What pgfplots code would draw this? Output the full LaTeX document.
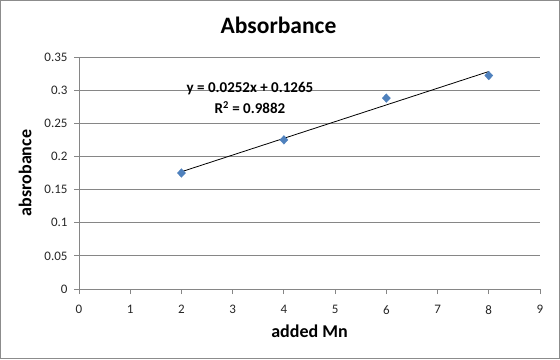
\documentclass[border=0pt]{standalone}
\usepackage{pgfplots}
\pgfplotsset{compat=1.18}
\usepackage{fontspec}
\setmainfont{Carlito}
\definecolor{seriesblue}{HTML}{4F81BD}
\definecolor{gridgray}{HTML}{868686}
\definecolor{framegray}{HTML}{8C8C8C}

\begin{document}
\begin{tikzpicture}[x=1bp,y=1bp]
% chart frame
\draw[framegray, line width=1.2bp] (0.6,0.6) rectangle (559.4,358.4);
\begin{axis}[
  at={(79bp,70bp)}, anchor=south west,
  scale only axis, width=461bp, height=232bp,
  xmin=0, xmax=9, ymin=0, ymax=0.35,
  xtick={0,1,2,3,4,5,6,7,8,9},
  ytick={0,0.05,0.1,0.15,0.2,0.25,0.3,0.35},
  yticklabels={0,0.05,0.1,0.15,0.2,0.25,0.3,0.35},
  axis x line*=bottom, axis y line*=left,
  axis line style={gridgray, line width=0.8bp},
  tick style={gridgray, line width=0.8bp},
  tick align=outside, major tick length=5bp,
  ymajorgrids, grid style={gridgray, line width=0.8bp},
  /pgf/number format/assume math mode=true,
  ticklabel style={font=\fontsize{13bp}{15bp}\selectfont, text=black!85},
  xticklabel style={yshift=-8bp},
  yticklabel style={xshift=-3bp},
  title={Absorbance},
  title style={font=\bfseries\fontsize{23.5bp}{27bp}\selectfont, at={(axis description cs:0.4328,1.11)}, anchor=center, yshift=0pt},
  xlabel={added Mn},
  xlabel style={font=\bfseries\fontsize{18bp}{21bp}\selectfont, at={(axis description cs:0.5,-0.18)}, anchor=center},
  ylabel={absrobance},
  ylabel style={font=\bfseries\fontsize{18bp}{21bp}\selectfont, at={(axis description cs:-0.117,0.5)}, anchor=center},
  clip=false,
]
% linear trendline y = 0.0252x + 0.1265 over the data range
\addplot[black, line width=0.8bp] coordinates {(2,0.1769) (8,0.3281)};
% measurements
\addplot[only marks, mark=diamond*, mark size=4.3bp, color=seriesblue, mark options={fill=seriesblue, draw=seriesblue, xscale=1.25}]
  coordinates {(2,0.175) (4,0.225) (6,0.288) (8,0.322)};
\node[font=\bfseries\fontsize{15bp}{18bp}\selectfont] at (axis cs:3.338,0.3017) {y = 0.0252x + 0.1265};
\node[font=\bfseries\fontsize{15bp}{18bp}\selectfont] at (axis cs:3.338,0.2735) {R\textsuperscript{2} = 0.9882};
\end{axis}
\end{tikzpicture}
\end{document}
